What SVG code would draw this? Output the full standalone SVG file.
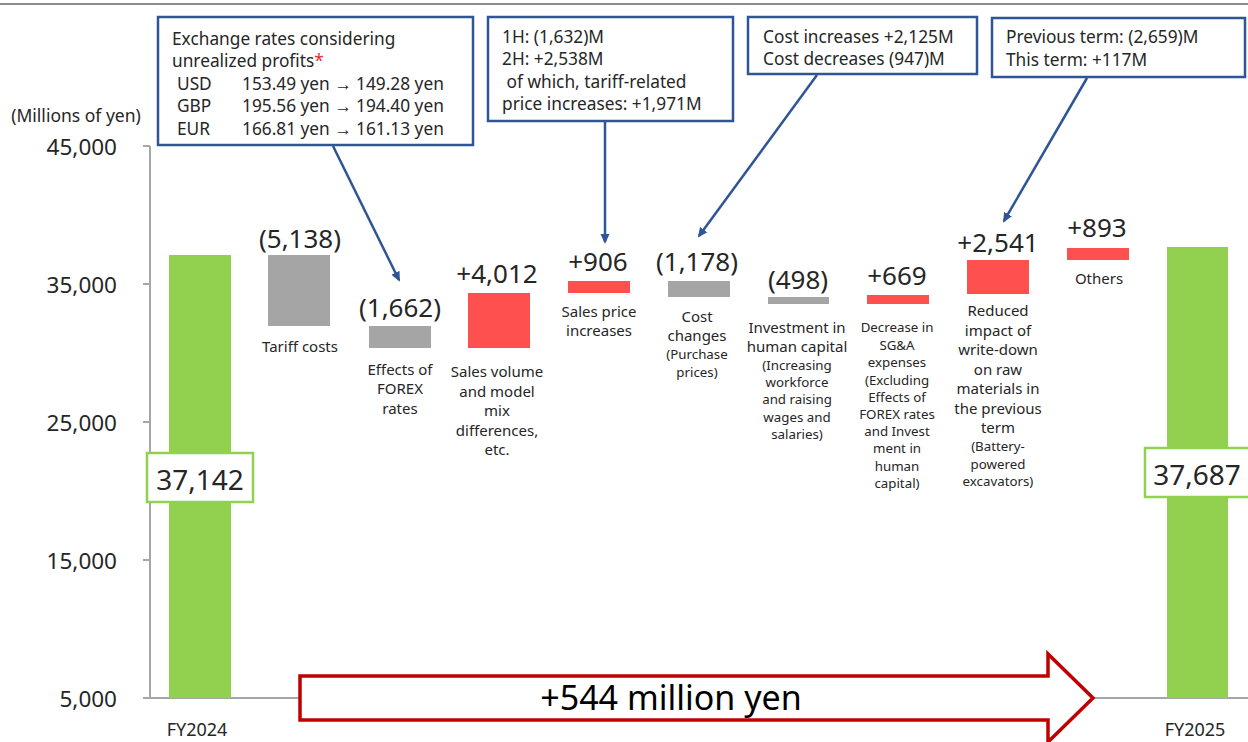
<svg xmlns="http://www.w3.org/2000/svg" width="1248" height="742" viewBox="0 0 1248 742">
<defs>
<style>
text{font-family:"Noto Sans","Open Sans",sans-serif;fill:#262626}
.box{fill:#fff;stroke:#2F5597;stroke-width:2.5}
.bt{font-size:17.3px}
.val{font-size:26px;text-anchor:middle}
.cat{font-size:15px;text-anchor:middle}
.cs{font-size:13.3px;text-anchor:middle}
.ax{font-size:22.5px;text-anchor:end}
.fy{font-size:18px;text-anchor:middle}
.g{fill:#92D050}
.gr{fill:#A5A5A5}
.r{fill:#FF5050}
.con{stroke:#2F5597;stroke-width:2.5;fill:none;marker-end:url(#ah)}
.tot{fill:#fff;stroke:#92D050;stroke-width:2.5}
</style>
<marker id="ah" markerWidth="10" markerHeight="10" refX="8" refY="5" orient="auto" markerUnits="userSpaceOnUse" viewBox="0 0 10 10">
<path d="M0,0.5 L10,5 L0,9.5 Z" fill="#2F5597"/>
</marker>
</defs>
<rect width="1248" height="742" fill="#fff"/>
<line x1="0" y1="4" x2="1248" y2="4" stroke="#8C8C8C" stroke-width="2"/>

<g id="axis">
<line x1="150" y1="146" x2="150" y2="698" stroke="#A6A6A6" stroke-width="2"/>
<line x1="150" y1="698" x2="1248" y2="698" stroke="#A6A6A6" stroke-width="2"/>
<g stroke="#A6A6A6" stroke-width="2">
<line x1="143" y1="146" x2="150" y2="146"/>
<line x1="143" y1="284" x2="150" y2="284"/>
<line x1="143" y1="422" x2="150" y2="422"/>
<line x1="143" y1="560" x2="150" y2="560"/>
<line x1="143" y1="698" x2="150" y2="698"/>
</g>
<text x="76" y="122" style="font-size:17.5px;text-anchor:middle">(Millions of yen)</text>
<text class="ax" x="117" y="155">45,000</text>
<text class="ax" x="117" y="293">35,000</text>
<text class="ax" x="117" y="431">25,000</text>
<text class="ax" x="117" y="569">15,000</text>
<text class="ax" x="117" y="707">5,000</text>
</g>

<g id="fy2024">
<rect class="g" x="169" y="255" width="62" height="443"/>
<rect class="tot" x="147" y="453" width="106" height="49"/>
<text x="200" y="490" style="font-size:28px;text-anchor:middle">37,142</text>
<text class="fy" x="197" y="736">FY2024</text>
</g>

<g id="tariff">
<rect class="gr" x="268" y="255" width="62" height="71"/>
<text class="val" x="300" y="248">(5,138)</text>
<text class="cat" x="300" y="352">Tariff costs</text>
</g>

<g id="forex">
<rect class="gr" x="369" y="326" width="62" height="22"/>
<text class="val" x="400" y="317">(1,662)</text>
<text class="cat" x="400" y="375">Effects of</text>
<text class="cat" x="400" y="394">FOREX</text>
<text class="cat" x="400" y="414">rates</text>
</g>

<g id="volume">
<rect class="r" x="468" y="293" width="62" height="55"/>
<text class="val" x="497" y="283">+4,012</text>
<text class="cat" x="497" y="377">Sales volume</text>
<text class="cat" x="497" y="397">and model</text>
<text class="cat" x="497" y="416">mix</text>
<text class="cat" x="497" y="436">differences,</text>
<text class="cat" x="497" y="455">etc.</text>
</g>

<g id="price">
<rect class="r" x="568" y="281" width="62" height="12"/>
<text class="val" x="598" y="271">+906</text>
<text class="cat" x="599" y="317">Sales price</text>
<text class="cat" x="599" y="336">increases</text>
</g>

<g id="cost">
<rect class="gr" x="668" y="281" width="62" height="16"/>
<text class="val" x="697" y="271">(1,178)</text>
<text class="cat" x="697" y="322">Cost</text>
<text class="cat" x="697" y="341">changes</text>
<text class="cs" x="697" y="359">(Purchase</text>
<text class="cs" x="697" y="377">prices)</text>
</g>

<g id="human">
<rect class="gr" x="768" y="297" width="61" height="7"/>
<text class="val" x="798" y="289">(498)</text>
<text class="cat" x="797" y="333">Investment in</text>
<text class="cat" x="797" y="352">human capital</text>
<text class="cs" x="797" y="370">(Increasing</text>
<text class="cs" x="797" y="387">workforce</text>
<text class="cs" x="797" y="404">and raising</text>
<text class="cs" x="797" y="422">wages and</text>
<text class="cs" x="797" y="439">salaries)</text>
</g>

<g id="sga">
<rect class="r" x="867" y="295" width="62" height="9"/>
<text class="val" x="897" y="285">+669</text>
<text class="cs" x="897" y="332">Decrease in</text>
<text class="cs" x="897" y="350">SG&amp;A</text>
<text class="cs" x="897" y="367">expenses</text>
<text class="cs" x="897" y="385">(Excluding</text>
<text class="cs" x="897" y="402">Effects of</text>
<text class="cs" x="897" y="419">FOREX rates</text>
<text class="cs" x="897" y="436">and Invest</text>
<text class="cs" x="897" y="453">ment in</text>
<text class="cs" x="897" y="471">human</text>
<text class="cs" x="897" y="488">capital)</text>
</g>

<g id="writedown">
<rect class="r" x="967" y="260" width="62" height="34"/>
<text class="val" x="998" y="252">+2,541</text>
<text class="cat" x="998" y="316">Reduced</text>
<text class="cat" x="998" y="336">impact of</text>
<text class="cat" x="998" y="355">write-down</text>
<text class="cat" x="998" y="375">on raw</text>
<text class="cat" x="998" y="394">materials in</text>
<text class="cat" x="998" y="414">the previous</text>
<text class="cat" x="998" y="433">term</text>
<text class="cs" x="998" y="451">(Battery-</text>
<text class="cs" x="998" y="469">powered</text>
<text class="cs" x="998" y="486">excavators)</text>
</g>

<g id="others">
<rect class="r" x="1067" y="248" width="62" height="12"/>
<text class="val" x="1097" y="237">+893</text>
<text class="cat" x="1099" y="284">Others</text>
</g>

<g id="fy2025">
<rect class="g" x="1167" y="247" width="61" height="451"/>
<rect class="tot" x="1145" y="448" width="115" height="49"/>
<text x="1197" y="485" style="font-size:28px;text-anchor:middle">37,687</text>
<text class="fy" x="1195" y="736">FY2025</text>
</g>

<g id="change-arrow">
<polygon points="300,676 1048,676 1048,654 1093,698 1048,742 1048,720 300,720" fill="#fff" stroke="#C00000" stroke-width="3.5"/>
<text x="671" y="710" style="font-size:34px;text-anchor:middle;fill:#000">+544 million yen</text>
</g>

<g id="note-forex">
<rect class="box" x="158" y="17" width="315" height="128"/>
<text class="bt" x="172" y="45">Exchange rates considering</text>
<text class="bt" x="172" y="67">unrealized profits<tspan fill="#E03030">*</tspan></text>
<text class="bt" x="177" y="90">USD</text><text class="bt" x="242" y="90">153.49 yen → 149.28 yen</text>
<text class="bt" x="177" y="112">GBP</text><text class="bt" x="242" y="112">195.56 yen → 194.40 yen</text>
<text class="bt" x="177" y="135">EUR</text><text class="bt" x="242" y="135">166.81 yen → 161.13 yen</text>
</g>

<g id="note-price">
<rect class="box" x="488" y="17" width="245" height="104"/>
<text class="bt" x="502" y="43">1H: (1,632)M</text>
<text class="bt" x="502" y="65">2H: +2,538M</text>
<text class="bt" x="502" y="88" xml:space="preserve"> of which, tariff-related</text>
<text class="bt" x="502" y="110">price increases: +1,971M</text>
</g>

<g id="note-cost">
<rect class="box" x="748" y="17" width="229" height="57"/>
<text class="bt" x="763" y="43">Cost increases +2,125M</text>
<text class="bt" x="763" y="65">Cost decreases (947)M</text>
</g>

<g id="note-writedown">
<rect class="box" x="992" y="18" width="253" height="59"/>
<text class="bt" x="1006" y="43">Previous term: (2,659)M</text>
<text class="bt" x="1006" y="66">This term: +117M</text>
</g>

<g id="connectors">
<line class="con" x1="333" y1="146" x2="399" y2="280"/>
<line class="con" x1="605" y1="122" x2="605" y2="242"/>
<line class="con" x1="817" y1="75" x2="699" y2="236"/>
<line class="con" x1="1087" y1="78" x2="1004" y2="221"/>
</g>
</svg>
